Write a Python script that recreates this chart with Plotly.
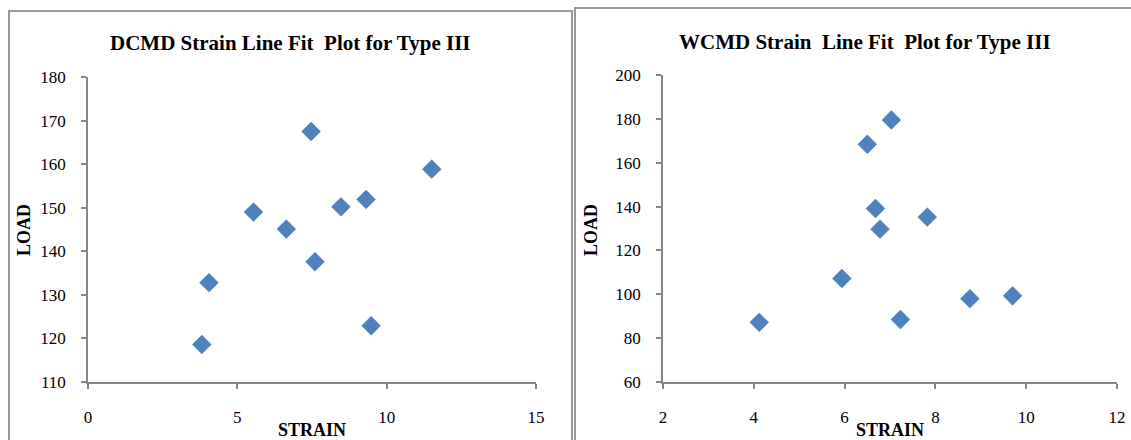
import plotly.graph_objects as go

W, H = 1131, 440
OFF = 0  # body margin removed by post_script below

# Data
dcmd_strain = [3.81, 4.05, 5.54, 6.64, 7.47, 7.60, 8.47, 9.31, 9.48, 11.51]
dcmd_load = [118.6, 132.8, 149.0, 145.1, 167.5, 137.6, 150.2, 151.9, 122.9, 158.85]

wcmd_strain = [4.12, 5.94, 6.50, 6.68, 6.78, 7.03, 7.23, 7.82, 8.76, 9.70]
wcmd_load = [87.2, 107.2, 168.4, 139.1, 129.7, 179.5, 88.5, 135.2, 98.0, 99.3]

titles = ["DCMD Strain Line Fit  Plot for Type III", "WCMD Strain  Line Fit  Plot for Type III"]
x_label = "STRAIN"
y_label = "LOAD"

BLUE = "#4F81BD"
AXIS = "#868686"
FONT = "Liberation Serif, Times New Roman, serif"


def px(x):
    return (x - OFF) / W


def py(y):
    return 1 - (y - OFF) / H


fig = go.Figure()
fig.add_trace(go.Scatter(x=dcmd_strain, y=dcmd_load, mode="markers",
                         marker=dict(symbol="diamond", size=14.5, color=BLUE,
                                     line=dict(width=0.5, color="#4A7EBB")),
                         xaxis="x", yaxis="y", showlegend=False))
fig.add_trace(go.Scatter(x=wcmd_strain, y=wcmd_load, mode="markers",
                         marker=dict(symbol="diamond", size=14.5, color=BLUE,
                                     line=dict(width=0.5, color="#4A7EBB")),
                         xaxis="x2", yaxis="y2", showlegend=False))

axis_common = dict(showgrid=False, zeroline=False, showline=True, linecolor=AXIS,
                   linewidth=1.5, ticks="outside", ticklen=5, tickcolor=AXIS, tickwidth=1.5,
                   automargin=False,
                   tickfont=dict(family=FONT, size=17, color="#000000"))

fig.update_layout(
    width=W, height=H,
    margin=dict(l=0, r=0, t=0, b=0, pad=0, autoexpand=False),
    paper_bgcolor="white", plot_bgcolor="white",
    xaxis=dict(domain=[px(88), px(536)], range=[0, 15], dtick=5, tick0=0,
               anchor="y", ticklabelstandoff=14, **axis_common),
    yaxis=dict(domain=[py(382), py(77)], range=[110, 180], dtick=10, tick0=110,
               anchor="x", ticklabelstandoff=12, **axis_common),
    xaxis2=dict(domain=[px(663), px(1117)], range=[2, 12], dtick=2, tick0=2,
                anchor="y2", ticklabelstandoff=14, **axis_common),
    yaxis2=dict(domain=[py(382), py(75)], range=[60, 200], dtick=20, tick0=60,
                anchor="x2", ticklabelstandoff=12, **axis_common),
)

ann = []
title_font = dict(family=FONT, size=21, color="#000000")
label_font = dict(family=FONT, size=18, color="#000000")
ann.append(dict(text="<b>%s</b>" % titles[0], x=px(290), y=py(43), xref="paper", yref="paper",
                showarrow=False, font=title_font, xanchor="center", yanchor="middle"))
ann.append(dict(text="<b>%s</b>" % titles[1], x=px(865), y=py(42), xref="paper", yref="paper",
                showarrow=False, font=title_font, xanchor="center", yanchor="middle"))
ann.append(dict(text="<b>%s</b>" % x_label, x=px(312), y=py(430), xref="paper", yref="paper",
                showarrow=False, font=label_font, xanchor="center", yanchor="middle"))
ann.append(dict(text="<b>%s</b>" % x_label, x=px(890), y=py(430), xref="paper", yref="paper",
                showarrow=False, font=label_font, xanchor="center", yanchor="middle"))
ann.append(dict(text="<b>%s</b>" % y_label, x=px(24), y=py(230), xref="paper", yref="paper",
                showarrow=False, font=label_font, textangle=-90, xanchor="center", yanchor="middle"))
ann.append(dict(text="<b>%s</b>" % y_label, x=px(591), y=py(230), xref="paper", yref="paper",
                showarrow=False, font=label_font, textangle=-90, xanchor="center", yanchor="middle"))
fig.update_layout(annotations=ann)

border = dict(color="#999999", width=2)
fig.update_layout(shapes=[
    dict(type="rect", xref="paper", yref="paper", x0=px(9), x1=px(572), y0=py(470), y1=py(11),
         line=border, fillcolor="rgba(0,0,0,0)", layer="below"),
    dict(type="rect", xref="paper", yref="paper", x0=px(575), x1=px(1170), y0=py(470), y1=py(8),
         line=border, fillcolor="rgba(0,0,0,0)", layer="below"),
])

fig.write_html("out.html", config={"displayModeBar": False},
               post_script="document.body.style.margin='0';document.body.style.overflow='hidden';")
